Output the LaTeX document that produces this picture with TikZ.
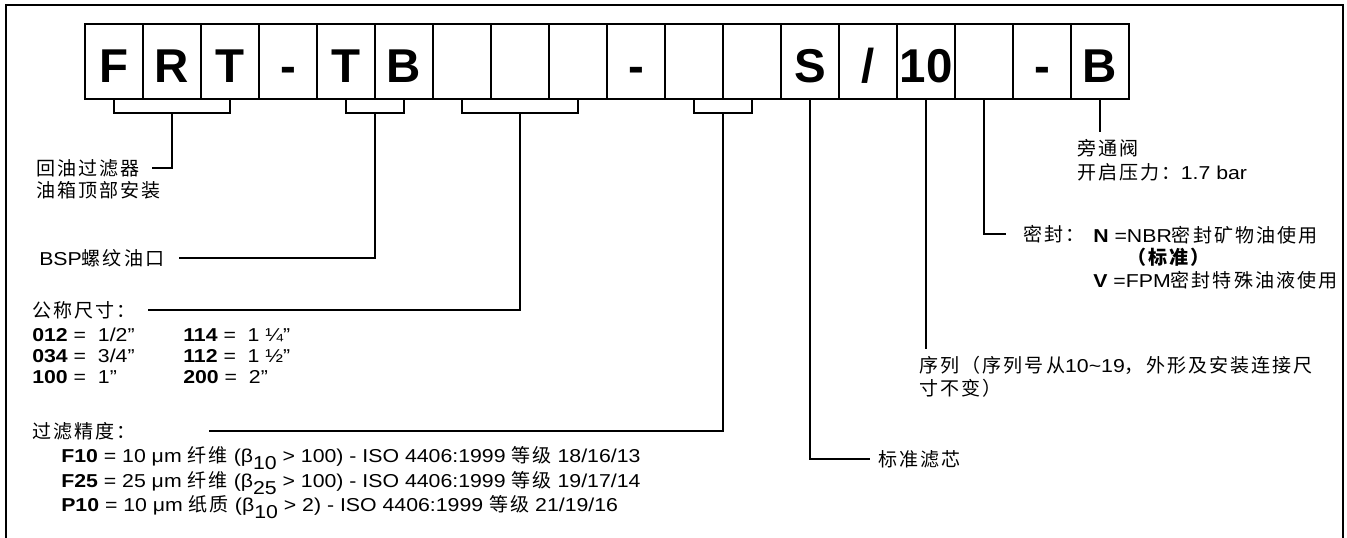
\documentclass[tikz,border=0pt]{standalone}
\usepackage{fontspec}
\setmainfont{Liberation Sans}[FakeStretch=1.14]
\newfontfamily\code{Liberation Sans}
\newfontfamily\cjk[Scale=1.02,LetterSpace=11]{Noto Sans CJK SC}
\newcommand\indice[1]{\raisebox{-0.35em}{#1}}
\tikzset{
	case/.style={draw,line width=1pt,minimum width=43.5pt,minimum height=56.25pt,inner sep=0pt,outer sep=0pt,text height=32.25pt,text depth=0pt,font=\fontsize{35.6}{40}\selectfont\code\bfseries},
	txt/.style={anchor=west,inner sep=0pt,font=\fontsize{14}{16}\selectfont},
	trait/.style={line width=1pt},
}
\begin{document}
\begin{tikzpicture}[x=0.75pt,y=-0.75pt]
	\useasboundingbox (0,0) rectangle (1347,538);
	%cadre
	\draw[trait] (6,538) -- (6,5) -- (1343,5) -- (1343,538);
	%cases du code
	\foreach \t [count=\i] in {F,R,T,-,T,B,{},{},{},-,{},{},S,/,10,{},-,B}
		\node[case] (c\i) at ({114+58*(\i-1)},61.5) {\t};
	%textes
	\node[txt] (filt1) at (36,168) {\cjk 回油过滤器};
	\node[txt] (filt2) at (36,190) {\cjk 油箱顶部安装};
	\node[txt] (bsp) at (39,258) {BSP{\cjk 螺纹油口}};
	\node[txt] (taille) at (32,310) {\cjk 公称尺寸：};
	\node[txt] (t012) at (32,335) {\textbf{012} = \ 1/2”};
	\node[txt] (t034) at (32,356) {\textbf{034} = \ 3/4”};
	\node[txt] (t100) at (32,377) {\textbf{100} = \ 1”};
	\node[txt] (t114) at (183,335) {\textbf{114} = \ 1 ¼”};
	\node[txt] (t112) at (183,356) {\textbf{112} = \ 1 ½”};
	\node[txt] (t200) at (183,377) {\textbf{200} = \ 2”};
	\node[txt] (grade) at (32,431) {\cjk 过滤精度：};
	\node[txt] (f10) at (61,458) {\textbf{F10} = 10 μm {\cjk 纤维} (β\indice{10} > 100) - ISO 4406:1999 {\cjk 等级} 18/16/13};
	\node[txt] (f25) at (61,483) {\textbf{F25} = 25 μm {\cjk 纤维} (β\indice{25} > 100) - ISO 4406:1999 {\cjk 等级} 19/17/14};
	\node[txt] (p10) at (61,507) {\textbf{P10} = 10 μm {\cjk 纸质} (β\indice{10} > 2) - ISO 4406:1999 {\cjk 等级} 21/19/16};
	\node[txt] (elem) at (878,459) {\cjk 标准滤芯};
	\node[txt,inner ysep=5pt] (serie1) at (919,365) {{\cjk 序列（序列号从}10\textasciitilde19{\cjk ，外形及安装连接尺}};
	\node[txt] (serie2) at (919,388) {\cjk 寸不变）};
	\node[txt] (joint) at (1023,234) {\cjk 密封：};
	\node[txt] (nbr) at (1093,235) {\textbf{N} =NBR{\cjk 密封矿物油使用}};
	\node[txt] (std) at (1127,257) {\bfseries\cjk （标准）};
	\node[txt] (fpm) at (1093,280) {\textbf{V} =FPM{\cjk 密封特殊油液使用}};
	\node[txt,inner ysep=5pt] (bypass1) at (1077,148) {\cjk 旁通阀};
	\node[txt] (bypass2) at (1077,172) {{\cjk 开启压力：}1.7 bar};
	%accolades
	\draw[trait] (c1.south) -- ++(0,14) -| (c3.south);
	\draw[trait] (c5.south) -- ++(0,14) -| (c6.south);
	\draw[trait] (c7.south) -- ++(0,14) -| (c9.south);
	\draw[trait] (c11.south) -- ++(0,14) -| (c12.south);
	%renvois
	\draw[trait] (c2.south) ++(0,14) |- ([xshift=9pt]filt1.east);
	\draw[trait] (c5.south east) ++(0,14) |- ([xshift=11pt]bsp.east);
	\draw[trait] (c8.south) ++(0,14) |- ([xshift=9pt]taille.east);
	\draw[trait] (c11.south east) ++(0,14) |- ([xshift=55pt]grade.east);
	\draw[trait] (c13.south) |- ([xshift=-6pt]elem.west);
	\draw[trait] (c15.south) -- (c15.south |- serie1.north);
	\draw[trait] (c16.south) |- ([xshift=-13pt]joint.west);
	\draw[trait] (c18.south) -- (c18.south |- bypass1.north);
\end{tikzpicture}
\end{document}
